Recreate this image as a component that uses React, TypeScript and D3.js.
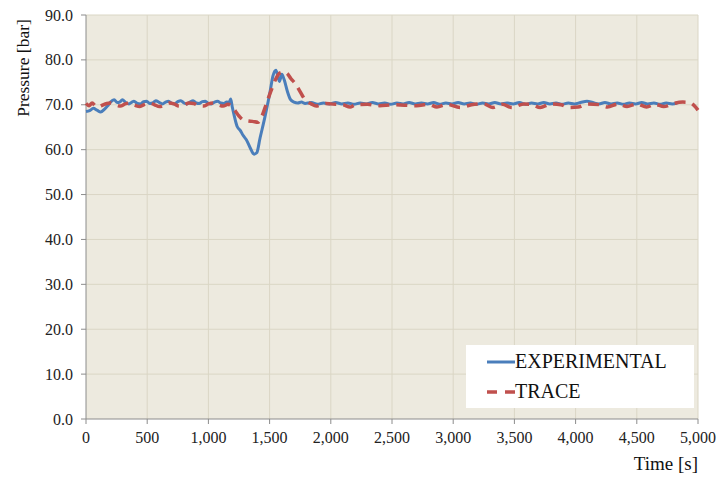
import React from 'react';
import * as d3 from 'd3';

// experimental pressure (blue)
const expTime = [
  0, 30, 60, 90, 120, 150, 175, 200, 230, 255, 275, 297, 325, 351, 375, 392, 420, 445, 470, 495,
  520, 545, 570, 600, 625, 650, 675, 700, 725, 750, 775, 800, 825, 850, 875, 900, 925, 950, 975, 1000,
  1025, 1050, 1075, 1100, 1127, 1150, 1170, 1182, 1195, 1209, 1234, 1260, 1283, 1310, 1340, 1373, 1395, 1422, 1462, 1503,
  1528, 1552, 1570, 1580, 1600, 1620, 1645, 1670, 1700, 1730, 1760, 1790, 1840, 1890, 1940, 1990, 2040, 2090, 2140, 2190,
  2240, 2290, 2340, 2390, 2440, 2490, 2540, 2590, 2640, 2690, 2740, 2790, 2840, 2890, 2940, 2990, 3040, 3090, 3140, 3190,
  3240, 3290, 3340, 3390, 3440, 3490, 3540, 3590, 3640, 3690, 3740, 3790, 3840, 3890, 3940, 3990, 4040, 4093, 4140, 4190,
  4240, 4290, 4340, 4390, 4440, 4490, 4540, 4590, 4640, 4690, 4740, 4790, 4830,
];
const expPressure = [
  68.5, 68.7, 69.2, 68.8, 68.4, 69.0, 69.7, 70.6, 71.1, 70.5, 70.6, 71.1, 70.5, 70.2, 70.6, 70.8, 70.3, 70.2, 70.7, 70.8,
  70.3, 70.4, 70.9, 70.5, 70.2, 70.6, 70.8, 70.3, 70.2, 70.7, 70.9, 70.4, 70.2, 70.6, 70.9, 70.4, 70.3, 70.7, 70.8, 70.3,
  70.2, 70.6, 70.8, 70.4, 70.3, 70.6, 70.5, 71.3, 69.5, 67.8, 65.2, 64.3, 63.2, 62.2, 60.5, 59.0, 59.3, 62.6, 67.3, 72.8,
  76.5, 77.7, 76.0, 75.2, 76.8, 75.5, 73.0, 71.2, 70.6, 70.4, 70.6, 70.3, 70.5, 70.1, 70.4, 70.2, 70.5, 70.2, 70.4, 70.1,
  70.4, 70.2, 70.5, 70.2, 70.4, 70.1, 70.4, 70.2, 70.5, 70.2, 70.4, 70.2, 70.5, 70.1, 70.4, 70.2, 70.5, 70.2, 70.4, 70.1,
  70.4, 70.2, 70.5, 70.2, 70.4, 70.2, 70.5, 70.1, 70.4, 70.2, 70.5, 70.2, 70.4, 70.1, 70.4, 70.2, 70.5, 70.8, 70.5, 70.2,
  70.5, 70.2, 70.4, 70.1, 70.4, 70.2, 70.5, 70.2, 70.4, 70.1, 70.4, 70.2, 70.4,
];

// TRACE code prediction (red dashed)
const traceTime = [
  0, 25, 50, 80, 110, 140, 170, 200, 240, 280, 320, 360, 400, 440, 480, 520, 560, 600, 640, 680,
  720, 760, 800, 840, 880, 920, 960, 1000, 1040, 1080, 1120, 1160, 1190, 1220, 1250, 1280, 1320, 1360, 1405, 1430,
  1462, 1490, 1520, 1555, 1585, 1615, 1642, 1675, 1707, 1748, 1780, 1805, 1840, 1880, 1920, 1960, 2000, 2100, 2157, 2200,
  2300, 2400, 2500, 2600, 2700, 2800, 2867, 2950, 3055, 3150, 3250, 3325, 3400, 3480, 3580, 3650, 3710, 3800, 3880, 3954,
  4020, 4100, 4200, 4260, 4350, 4420, 4500, 4580, 4650, 4720, 4800, 4877, 4930, 4970, 5000,
];
const tracePressure = [
  70.3, 69.8, 70.4, 69.7, 69.6, 70.0, 70.3, 70.4, 70.0, 69.7, 70.2, 70.4, 69.9, 69.6, 70.1, 70.4, 70.0, 69.6, 69.9, 70.4,
  70.2, 69.7, 69.9, 70.4, 70.3, 69.8, 69.7, 70.2, 70.4, 70.0, 69.7, 70.1, 69.6, 68.6, 67.5, 66.7, 66.4, 66.3, 66.1, 67.0,
  69.3, 71.5, 73.7, 76.0, 77.1, 77.3, 77.0, 75.8, 74.8, 73.0, 71.5, 70.8, 70.2, 69.7, 70.0, 70.3, 70.2, 70.0, 69.5, 70.0,
  70.1, 69.8, 70.0, 69.9, 69.8, 70.1, 69.5, 70.1, 69.4, 70.0, 70.2, 69.4, 70.1, 69.4, 70.2, 70.0, 69.4, 70.2, 70.0, 69.4,
  69.5, 70.2, 70.0, 69.5, 70.2, 69.6, 70.2, 69.5, 70.1, 69.6, 70.3, 70.6, 70.5, 69.8, 68.8,
];

const xTicks = [0, 500, 1000, 1500, 2000, 2500, 3000, 3500, 4000, 4500, 5000];
const yTicks = [0, 10, 20, 30, 40, 50, 60, 70, 80, 90];

const W = 719;
const H = 481;
const plot = { left: 86, right: 698, top: 15, bottom: 419 };
const font = '"Liberation Serif", "Times New Roman", serif';
const blue = '#4A7EBB';
const red = '#C0504D';

const App = () => {
  const x = d3.scaleLinear().domain([0, 5000]).range([plot.left, plot.right]);
  const y = d3.scaleLinear().domain([0, 90]).range([plot.bottom, plot.top]);

  const line = d3.line<[number, number]>()
    .x(d => x(d[0]))
    .y(d => y(d[1]))
    .curve(d3.curveMonotoneX);

  const expPath = line(expTime.map((t, i) => [t, expPressure[i]]));
  const tracePath = line(traceTime.map((t, i) => [t, tracePressure[i]]));
  const fmtX = d3.format(',');

  return (
    <svg width={W} height={H} style={{ position: 'absolute', left: 0, top: 0, background: '#fff' }}
      fontFamily={font}>
      <rect x={plot.left} y={plot.top} width={plot.right - plot.left} height={plot.bottom - plot.top}
        fill="#EDEADF" />
      {/* gridlines */}
      {xTicks.slice(1).map(t => (
        <line key={'gx' + t} x1={x(t)} x2={x(t)} y1={plot.top} y2={plot.bottom} stroke="#DAD6C5" strokeWidth={1} />
      ))}
      {yTicks.slice(1).map(t => (
        <line key={'gy' + t} x1={plot.left} x2={plot.right} y1={y(t)} y2={y(t)} stroke="#DAD6C5" strokeWidth={1} />
      ))}
      {/* axes */}
      <line x1={plot.left} x2={plot.left} y1={plot.top} y2={plot.bottom} stroke="#8C8C8C" />
      <line x1={plot.left} x2={plot.right} y1={plot.bottom} y2={plot.bottom} stroke="#8C8C8C" />
      {xTicks.map(t => (
        <g key={'tx' + t}>
          <line x1={x(t)} x2={x(t)} y1={plot.bottom} y2={plot.bottom + 5} stroke="#8C8C8C" />
          <text x={x(t)} y={443} textAnchor="middle" fontSize={16} fill="#222">{fmtX(t)}</text>
        </g>
      ))}
      {yTicks.map(t => (
        <g key={'ty' + t}>
          <line x1={plot.left - 5} x2={plot.left} y1={y(t)} y2={y(t)} stroke="#8C8C8C" />
          <text x={73} y={y(t)} dy="0.35em" textAnchor="end" fontSize={16} fill="#222">{t.toFixed(1)}</text>
        </g>
      ))}
      <text transform="translate(29,68) rotate(-90)" textAnchor="middle" fontSize={17.5} fill="#111">Pressure [bar]</text>
      <text x={698} y={470} textAnchor="end" fontSize={19} fill="#111">Time [s]</text>

      {/* series */}
      <path d={expPath ?? ''} fill="none" stroke={blue} strokeWidth={3} strokeLinejoin="round" />
      <path d={tracePath ?? ''} fill="none" stroke={red} strokeWidth={3.5} strokeDasharray="11,7" />

      {/* legend */}
      <rect x={466} y={345} width={228} height={63} fill="#fff" />
      <line x1={487} x2={515} y1={362} y2={362} stroke={blue} strokeWidth={3} />
      <text x={515} y={368} fontSize={20} fill="#111">EXPERIMENTAL</text>
      <line x1={487} x2={515} y1={392} y2={392} stroke={red} strokeWidth={3.5} strokeDasharray="10,8" />
      <text x={515} y={398} fontSize={20} fill="#111">TRACE</text>
    </svg>
  );
};

export default App;
